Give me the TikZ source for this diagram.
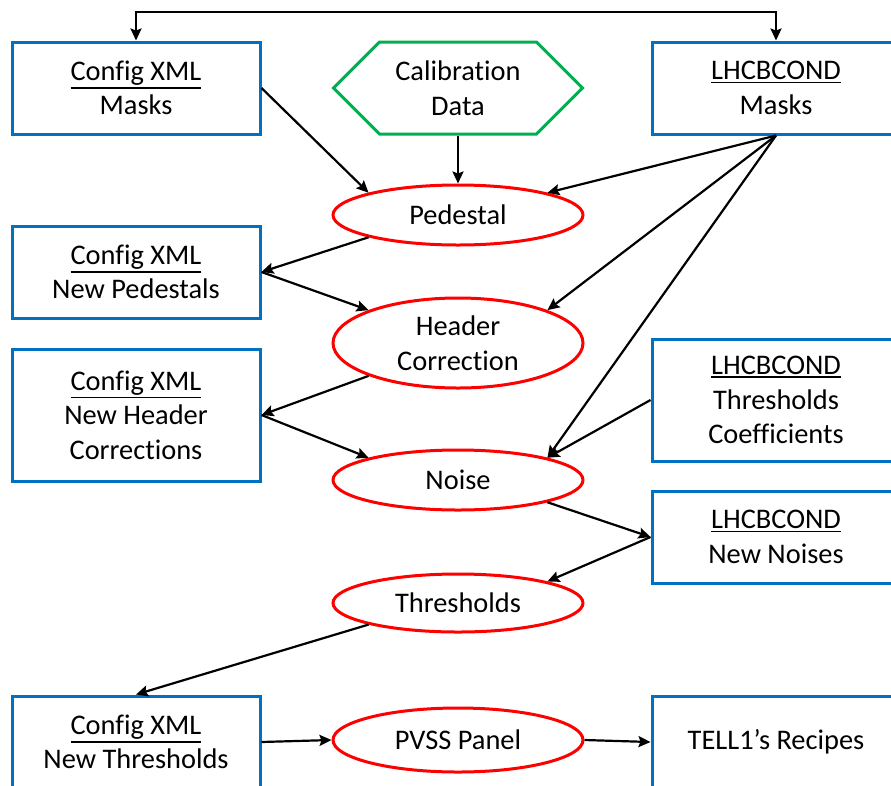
\documentclass[tikz,border=0pt]{standalone}
\usepackage{fontspec}
\setmainfont{Carlito}[Ligatures=CommonOff]
\usetikzlibrary{shapes.geometric,shapes.symbols,arrows.meta}
\definecolor{boxblue}{RGB}{0,112,192}
\definecolor{calgreen}{RGB}{0,176,80}
\definecolor{stepred}{RGB}{255,0,0}
% underlined heading line inside a box
\newcommand{\undl}[1]{\vtop{\hbox{#1}\kern1.6pt\hrule height 1.8pt}}
\begin{document}
\begin{tikzpicture}[x=1pt,y=-1pt,
  txt/.style={font=\fontsize{28.4}{34.5}\selectfont, align=center, text=black, inner sep=0pt},
  store/.style={txt, draw=boxblue, line width=3pt, rectangle, minimum width=248pt},
  stage/.style={txt, draw=stepred, line width=3pt, ellipse, minimum width=250pt},
  source/.style={txt, draw=calgreen, line width=3pt, signal, signal to=west and east,
                 signal pointer angle=90, minimum width=249pt, minimum height=92pt},
  tip/.style={Stealth[length=12pt,width=11pt,inset=2pt]},
  arr/.style={draw=black, line width=2.2pt, -{Stealth[length=12pt,width=11pt,inset=2pt]}}
]
\useasboundingbox (0,0) rectangle (891,785);
\clip (0,0) rectangle (891,785);

% data stores (blue boxes)
\node[store, minimum height=92pt]  (cfgmask)   at (136,88)  {\undl{Config XML}\\Masks};
\node[store, minimum height=92pt]  (lhcbmask)  at (776,88)  {\undl{LHCBCOND}\\Masks};
\node[store, minimum height=92pt]  (cfgped)    at (136,272) {\undl{Config XML}\\New Pedestals};
\node[store, minimum height=132pt] (cfghdr)    at (136,415) {\undl{Config XML}\\New Header\\Corrections};
\node[store, minimum height=122pt] (lhcbthr)   at (776,400) {\undl{LHCBCOND}\\Thresholds\\Coefficients};
\node[store, minimum height=92pt]  (lhcbnoise) at (776,537) {\undl{LHCBCOND}\\New Noises};
\node[store, minimum height=92pt]  (cfgthr)    at (136,742) {\undl{Config XML}\\New Thresholds};
\node[store, minimum height=92pt]  (tell)      at (776,742) {TELL1’s Recipes};

% calibration input
\node[source] (calib) at (458,88) {Calibration\\Data};

% processing stages (red ellipses)
\node[stage, minimum height=60pt] (ped)   at (458,215) {Pedestal};
\node[stage, minimum height=90pt] (hdr)   at (458,343) {Header\\Correction};
\node[stage, minimum height=60pt] (noise) at (458,480) {Noise};
\node[stage, minimum height=58pt] (thr)   at (458,603) {Thresholds};
\node[stage, minimum height=64pt] (pvss)  at (458,740) {PVSS Panel};

% mask exchange between the two mask stores
\coordinate (maskbus) at (458,12);
\draw[draw=black, line width=2.2pt, {Stealth[length=12pt,width=11pt,inset=2pt]}-{Stealth[length=12pt,width=11pt,inset=2pt]}]
  (cfgmask.north) |- (maskbus) -| (lhcbmask.north);

% flow
\draw[arr] (cfgmask.east) -- (ped.north west);
\draw[arr] (calib.south) -- (ped.north);
\draw[arr] (lhcbmask.south) -- (ped.north east);
\draw[arr] (lhcbmask.south) -- (hdr.north east);
\draw[arr] (lhcbmask.south) -- (noise.north east);
\draw[arr] (ped.south west) -- (cfgped.east);
\draw[arr] (cfgped.east) -- (hdr.north west);
\draw[arr] (hdr.south west) -- (cfghdr.east);
\draw[arr] (cfghdr.east) -- (noise.north west);
\draw[arr] (lhcbthr.west) -- (noise.north east);
\draw[arr] (noise.south east) -- (lhcbnoise.west);
\draw[arr] (lhcbnoise.west) -- (thr.north east);
\draw[arr] (thr.south west) -- (cfgthr.north);
\draw[arr] (cfgthr.east) -- (pvss.west);
\draw[arr] (pvss.east) -- (tell.west);
\end{tikzpicture}
\end{document}
